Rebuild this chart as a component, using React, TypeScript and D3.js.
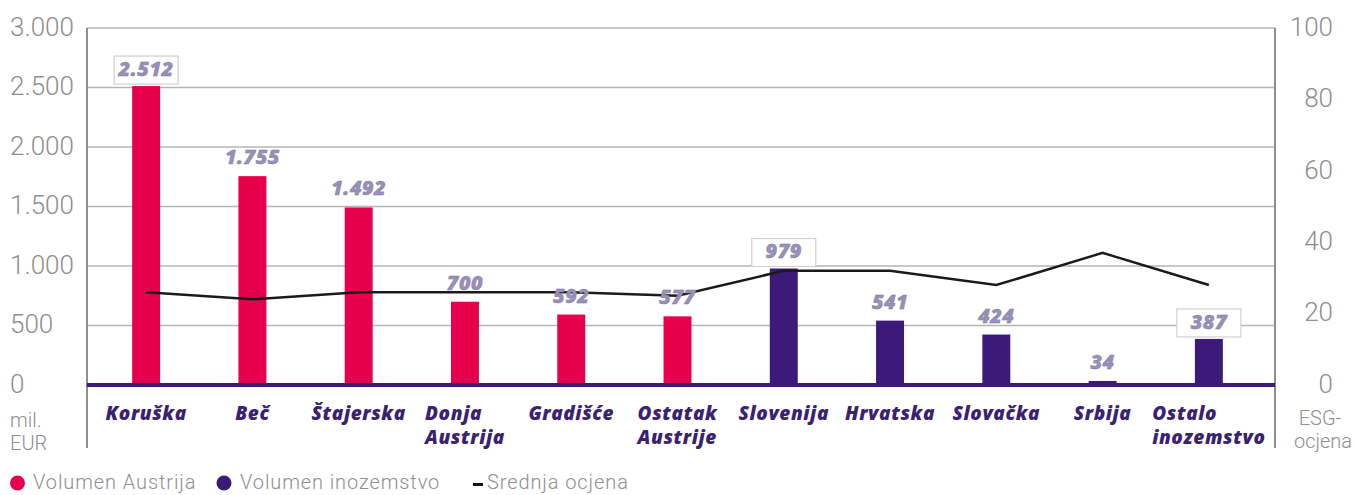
import React, { useEffect, useRef } from "react";
import * as d3 from "d3";

// categories (two-line labels split by "\n")
const categories = [
  "Koruška", "Beč", "Štajerska", "Donja\nAustrija", "Gradišće", "Ostatak\nAustrije",
  "Slovenija", "Hrvatska", "Slovačka", "Srbija", "Ostalo\ninozemstvo",
];
const volume = [2512, 1755, 1492, 700, 592, 577, 979, 541, 424, 34, 387];
const isForeign = [false, false, false, false, false, false, true, true, true, true, true];
const esgScore = [26, 24, 26, 26, 26, 25, 32, 32, 28, 37, 28];
const boxedLabels = ["Koruška", "Slovenija", "Ostalo\ninozemstvo"];

const leftTicks = [0, 500, 1000, 1500, 2000, 2500, 3000];
const rightTicks = [0, 20, 40, 60, 80, 100];
const legendItems = ["Volumen Austrija", "Volumen inozemstvo", "Srednja ocjena"];

const PINK = "#e6004c";
const PURPLE = "#3b1a7a";
const GREY = "#8e8e8e";
const LABEL = "#9890b6";

const fmt = d3.formatLocale({ decimal: ",", thousands: ".", grouping: [3], currency: ["", "€"] }).format(",d");

const App = () => {
  const svgRef = useRef<SVGSVGElement>(null);

  useEffect(() => {
    const width = 1357, height = 495;
    const left = 87, right = 1275, top = 28, bottom = 385;

    const svg = d3.select(svgRef.current)
      .attr("width", width)
      .attr("height", height);
    svg.selectAll("*").remove();

    const x = d3.scaleBand<string>()
      .domain(categories)
      .range([93, 1262])
      .paddingInner(0.737)
      .paddingOuter(0.3685);
    const y = d3.scaleLinear().domain([0, 3000]).range([bottom, top]);
    const y2 = d3.scaleLinear().domain([0, 100]).range([bottom, top]);

    // gridlines
    svg.append("g")
      .selectAll("line")
      .data(leftTicks.filter(t => t > 0))
      .join("line")
      .attr("x1", left).attr("x2", right)
      .attr("y1", d => y(d)).attr("y2", d => y(d))
      .attr("stroke", "#b4b4b4")
      .attr("stroke-width", 1.5);

    // vertical axis lines
    [left, right].forEach(xp => {
      svg.append("line")
        .attr("x1", xp).attr("x2", xp)
        .attr("y1", top).attr("y2", 448)
        .attr("stroke", GREY)
        .attr("stroke-width", 2);
    });

    const tickFont = (sel: any) => sel
      .attr("font-family", "Roboto, sans-serif")
      .attr("font-weight", 300)
      .attr("fill", GREY);

    svg.append("g")
      .selectAll("text")
      .data(leftTicks)
      .join("text")
      .call(tickFont)
      .attr("x", 10)
      .attr("y", d => y(d) + 1)
      .attr("dominant-baseline", "middle")
      .attr("font-size", 26)
      .text(d => fmt(d));

    svg.append("g")
      .selectAll("text")
      .data(rightTicks)
      .join("text")
      .call(tickFont)
      .attr("x", 1333)
      .attr("y", d => y2(d) + 1)
      .attr("text-anchor", "end")
      .attr("dominant-baseline", "middle")
      .attr("font-size", 26)
      .text(d => d);

    // unit labels
    const unit = svg.append("g").call(tickFont).attr("font-size", 20);
    unit.append("text").attr("x", 10).attr("y", 427).text("mil.");
    unit.append("text").attr("x", 10).attr("y", 450).text("EUR");
    unit.append("text").attr("x", 1320).attr("y", 425).attr("text-anchor", "middle").text("ESG-");
    unit.append("text").attr("x", 1323).attr("y", 448).attr("text-anchor", "middle").text("ocjena");

    // bars
    svg.append("g")
      .selectAll("rect")
      .data(categories)
      .join("rect")
      .attr("x", d => x(d)!)
      .attr("y", (d, i) => y(volume[i]))
      .attr("width", x.bandwidth())
      .attr("height", (d, i) => bottom - y(volume[i]))
      .attr("fill", (d, i) => (isForeign[i] ? PURPLE : PINK));

    // baseline
    svg.append("line")
      .attr("x1", left).attr("x2", right)
      .attr("y1", bottom).attr("y2", bottom)
      .attr("stroke", PURPLE)
      .attr("stroke-width", 4);

    // ESG line
    const line = d3.line<number>()
      .x((d, i) => x(categories[i])! + x.bandwidth() / 2)
      .y(d => y2(d));
    svg.append("path")
      .datum(esgScore)
      .attr("d", line)
      .attr("fill", "none")
      .attr("stroke", "#1a1a1a")
      .attr("stroke-width", 2.5);

    // value labels
    const labels = svg.append("g")
      .selectAll("g")
      .data(categories)
      .join("g")
      .attr("transform", (d, i) => `translate(${x(d)! + x.bandwidth() / 2},${y(volume[i])})`);

    labels.filter(d => boxedLabels.includes(d))
      .append("rect")
      .attr("x", -32).attr("y", -30)
      .attr("width", 64).attr("height", 28)
      .attr("fill", "#fff")
      .attr("stroke", "#cfcfcf")
      .attr("stroke-width", 1.2);

    labels.append("text")
      .attr("y", d => (boxedLabels.includes(d) ? -10 : -12))
      .attr("text-anchor", "middle")
      .attr("font-family", "'Open Sans', sans-serif")
      .attr("font-weight", 800)
      .attr("font-style", "italic")
      .attr("font-size", 20)
      .attr("letter-spacing", 0.5)
      .attr("fill", LABEL)
      .attr("stroke", "#7d76a0")
      .attr("stroke-width", 0.4)
      .text((d, i) => fmt(volume[i]));

    // category labels, lines left-aligned within a centred block
    const cat = svg.append("g")
      .selectAll("text")
      .data(categories)
      .join("text")
      .attr("font-family", "'Open Sans', sans-serif")
      .attr("font-weight", 800)
      .attr("font-style", "italic")
      .attr("font-size", 19)
      .attr("letter-spacing", 0.6)
      .attr("fill", "#3a2273");
    cat.each(function (d) {
      const t = d3.select(this);
      const lines = d.split("\n");
      lines.forEach((ln, k) => {
        t.append("tspan").attr("y", 420 + k * 24).text(ln);
      });
      const spans = t.selectAll<SVGTSpanElement, unknown>("tspan").nodes();
      const w = d3.max(spans, s => s.getComputedTextLength()) || 0;
      const cx = x(d)! + x.bandwidth() / 2;
      spans.forEach(s => s.setAttribute("x", String(cx - w / 2)));
    });

    // legend
    const lg = svg.append("g")
      .attr("font-family", "Roboto, sans-serif")
      .attr("font-weight", 300)
      .attr("font-size", 20)
      .attr("letter-spacing", 0.9)
      .attr("fill", GREY);
    lg.append("circle").attr("cx", 17.5).attr("cy", 483).attr("r", 7.5).attr("fill", PINK);
    lg.append("text").attr("x", 33).attr("y", 489).text(legendItems[0]);
    lg.append("circle").attr("cx", 224).attr("cy", 483).attr("r", 7.5).attr("fill", PURPLE);
    lg.append("text").attr("x", 240).attr("y", 489).text(legendItems[1]);
    lg.append("rect").attr("x", 473).attr("y", 483).attr("width", 10).attr("height", 3).attr("fill", "#111");
    lg.append("text").attr("x", 487).attr("y", 489).text(legendItems[2]);
  }, []);

  return <svg ref={svgRef} style={{ position: "absolute", left: 0, top: 0 }}></svg>;
};

export default App;
